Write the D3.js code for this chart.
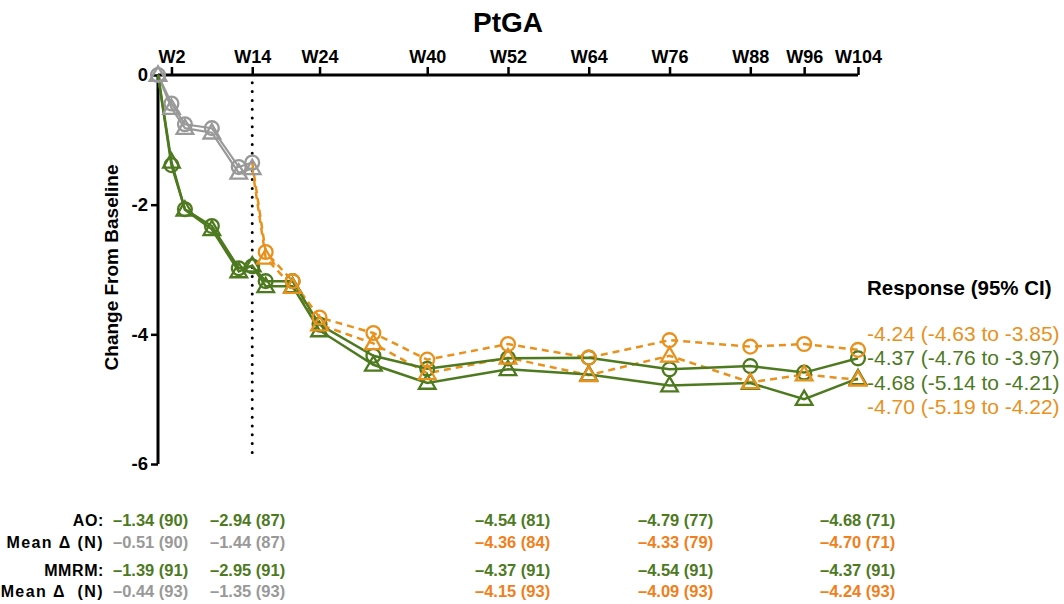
<!DOCTYPE html>
<html>
<head>
<meta charset="utf-8">
<script src="https://cdn.jsdelivr.net/npm/d3@7"></script>
<style>
  html, body { margin: 0; padding: 0; background: #fff; }
  text { font-family: "Liberation Sans", Arial, sans-serif; }
</style>
</head>
<body>
<svg id="chart" width="1064" height="604"></svg>
<script>
'use strict';

// weeks
const weeksEarly = [0, 2, 4, 8, 12, 14];
const weeksAll = [0, 2, 4, 8, 12, 14, 16, 20, 24, 32, 40, 52, 64, 76, 88, 96, 104];
const weeksLate = [14, 16, 20, 24, 32, 40, 52, 64, 76, 88, 96, 104];
const tickWeeks = [2, 14, 24, 40, 52, 64, 76, 88, 96, 104];
const yTicks = [0, -2, -4, -6];

// grey (first phase)
const greyMMRM = [0, -0.44, -0.76, -0.82, -1.42, -1.35];
const greyAO = [0, -0.51, -0.82, -0.89, -1.51, -1.44];

// green (continuous)
const greenMMRM = [0, -1.39, -2.07, -2.33, -2.98, -2.95, -3.18, -3.18, -3.85, -4.33, -4.53, -4.37, -4.36, -4.54, -4.49, -4.59, -4.37];
const greenAO = [0, -1.34, -2.08, -2.38, -3.03, -2.94, -3.26, -3.26, -3.94, -4.47, -4.75, -4.54, -4.62, -4.79, -4.75, -5.00, -4.68];

// orange (switch)
const orangeMMRM = [-1.35, -2.73, -3.18, -3.74, -3.98, -4.39, -4.15, -4.36, -4.09, -4.19, -4.15, -4.24];
const orangeAO = [-1.44, -2.82, -3.27, -3.85, -4.14, -4.60, -4.36, -4.63, -4.33, -4.74, -4.62, -4.70];

// right side labels
const respLabels = ['-4.24 (-4.63 to -3.85)', '-4.37 (-4.76 to -3.97)', '-4.68 (-5.14 to -4.21)', '-4.70 (-5.19 to -4.22)'];
const respColors = ['orange', 'green', 'green', 'orange'];

// table
const tableWeeks = [2, 14, 52, 76, 104];
const rowLabels = ['AO:', 'Mean \u0394 (N)', 'MMRM:', 'Mean \u0394\u00a0 (N)'];
const rowAO1 = ['\u20131.34 (90)', '\u20132.94 (87)', '\u20134.54 (81)', '\u20134.79 (77)', '\u20134.68 (71)'];
const rowAO2 = ['\u20130.51 (90)', '\u20131.44 (87)', '\u20134.36 (84)', '\u20134.33 (79)', '\u20134.70 (71)'];
const rowMM1 = ['\u20131.39 (91)', '\u20132.95 (91)', '\u20134.37 (91)', '\u20134.54 (91)', '\u20134.37 (91)'];
const rowMM2 = ['\u20130.44 (93)', '\u20131.35 (93)', '\u20134.15 (93)', '\u20134.09 (93)', '\u20134.24 (93)'];
const row2Colors = ['grey', 'grey', 'torange', 'torange', 'torange'];

const colors = {
  green: '#4e7a1f',
  orange: '#e8911d',
  grey: '#999999',
  torange: '#f0801c',
  black: '#000'
};

const svg = d3.select('#chart');
const x = d3.scaleLinear().domain([0, 104]).range([158, 858]);
const y = d3.scaleLinear().domain([0, -6]).range([75, 464]);

// title
svg.append('text')
  .attr('x', 508).attr('y', 32)
  .attr('text-anchor', 'middle')
  .attr('font-size', 28).attr('font-weight', 'bold')
  .text('PtGA');

// x axis on top
const xAxis = d3.axisTop(x).tickValues(tickWeeks).tickSize(8).tickPadding(4)
  .tickFormat(d => 'W' + d);
const gx = svg.append('g').attr('transform', 'translate(0,' + y(0) + ')').call(xAxis);
gx.select('.domain').attr('stroke-width', 3).attr('d', 'M' + x(0) + ',0H' + x(104));
gx.selectAll('.tick line').attr('stroke-width', 2.5);
gx.selectAll('.tick text').attr('font-size', 18).attr('font-weight', 'bold')
  .attr('font-family', '"Liberation Sans", Arial, sans-serif');

// y axis
const yAxis = d3.axisLeft(y).tickValues(yTicks).tickSize(7).tickPadding(3)
  .tickFormat(d => d === 0 ? '0' : '-' + Math.abs(d));
const gy = svg.append('g').attr('transform', 'translate(' + x(0) + ',0)').call(yAxis);
gy.select('.domain').attr('stroke-width', 3).attr('d', 'M0,' + y(0) + 'V' + y(-6));
gy.selectAll('.tick line').attr('stroke-width', 2.5);
gy.selectAll('.tick text').attr('font-size', 18.5).attr('font-weight', 'bold')
  .attr('font-family', '"Liberation Sans", Arial, sans-serif');

svg.append('text')
  .attr('transform', 'translate(118,' + ((y(0) + y(-6)) / 2 - 2) + ') rotate(-90)')
  .attr('text-anchor', 'middle')
  .attr('font-size', 19).attr('font-weight', 'bold')
  .text('Change From Baseline');

// dotted W14 line
svg.append('line')
  .attr('x1', x(14)).attr('x2', x(14))
  .attr('y1', y(-0.12)).attr('y2', y(-5.95))
  .attr('stroke', '#000').attr('stroke-width', 3)
  .attr('stroke-linecap', 'round').attr('stroke-dasharray', '0,8.8');

const line = d3.line().x(d => x(d[0])).y(d => y(d[1]));

function drawSeries(weeks, vals, color, dashed, width) {
  svg.append('path')
    .datum(d3.zip(weeks, vals))
    .attr('d', line)
    .attr('fill', 'none')
    .attr('stroke', color)
    .attr('stroke-width', width)
    .attr('stroke-dasharray', dashed ? '7,5' : null);
}

function drawMarkers(weeks, vals, color, shape) {
  const sym = shape === 'circle'
    ? d3.symbol().type(d3.symbolCircle).size(150)
    : d3.symbol().type(d3.symbolTriangle).size(120);
  svg.append('g').selectAll('path')
    .data(d3.zip(weeks, vals))
    .join('path')
    .attr('transform', d => 'translate(' + x(d[0]) + ',' + (y(d[1]) + (shape === 'circle' ? 0 : 1)) + ')')
    .attr('d', sym)
    .attr('fill', 'none')
    .attr('stroke', color)
    .attr('stroke-width', 2.3);
}

// lines
drawSeries(weeksEarly, greyMMRM, colors.grey, false, 2.2);
drawSeries(weeksEarly, greyAO, colors.grey, false, 2.2);
drawSeries(weeksLate, orangeMMRM, colors.orange, true, 2.5);
drawSeries(weeksLate, orangeAO, colors.orange, true, 2.5);
drawSeries(weeksAll, greenMMRM, colors.green, false, 2.5);
drawSeries(weeksAll, greenAO, colors.green, false, 2.5);

// markers
drawMarkers(weeksEarly, greyMMRM, colors.grey, 'circle');
drawMarkers(weeksEarly, greyAO, colors.grey, 'triangle');
drawMarkers(weeksAll.slice(1), greenMMRM.slice(1), colors.green, 'circle');
drawMarkers(weeksAll.slice(1), greenAO.slice(1), colors.green, 'triangle');
drawMarkers(weeksLate.slice(1), orangeMMRM.slice(1), colors.orange, 'circle');
drawMarkers(weeksLate.slice(1), orangeAO.slice(1), colors.orange, 'triangle');

// response labels
svg.append('text')
  .attr('x', 867).attr('y', 295)
  .attr('font-size', 20.5).attr('font-weight', 'bold')
  .text('Response (95% CI)');

svg.append('g').selectAll('text')
  .data(respLabels)
  .join('text')
  .attr('x', 867)
  .attr('y', (d, i) => 341 + i * 24.3)
  .attr('font-size', 21)
  .attr('fill', (d, i) => colors[respColors[i]])
  .text(d => d);

// table
const colStart = [113, 210, 475, 638, 820];
const rowY = [526, 548, 576, 597];
const rows = [rowAO1, rowAO2, rowMM1, rowMM2];
const rowColors = [
  tableWeeks.map(() => 'green'),
  row2Colors,
  tableWeeks.map(() => 'green'),
  row2Colors
];

svg.append('g').selectAll('text')
  .data(rowLabels)
  .join('text')
  .attr('x', 104)
  .attr('y', (d, i) => rowY[i])
  .attr('text-anchor', 'end')
  .attr('font-size', 16).attr('font-weight', 'bold')
  .attr('letter-spacing', (d, i) => i % 2 === 1 ? 1.4 : 0.6)
  .style('white-space', 'pre')
  .text(d => d);

rows.forEach(function(row, r) {
  svg.append('g').selectAll('text')
    .data(row)
    .join('text')
    .attr('x', (d, i) => colStart[i])
    .attr('y', rowY[r])
    .attr('font-size', 16.5).attr('font-weight', 'bold')
    .attr('fill', (d, i) => colors[rowColors[r][i]])
    .text(d => d);
});
</script>
</body>
</html>
